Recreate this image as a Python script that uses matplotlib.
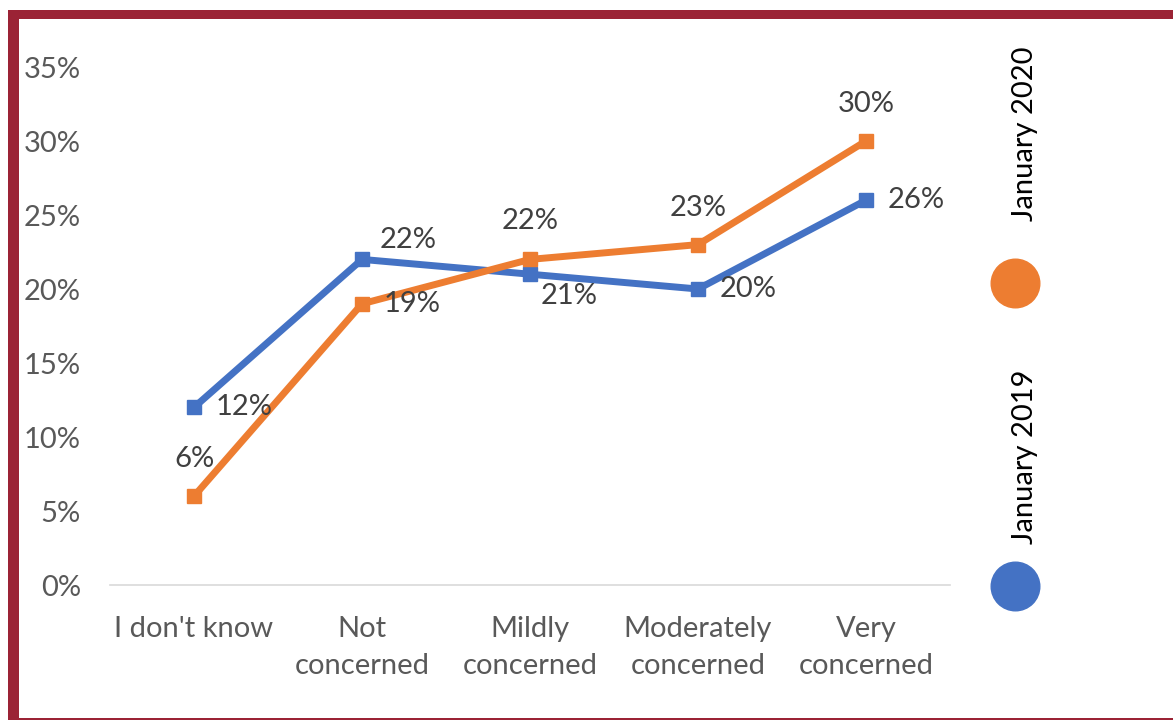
import matplotlib
matplotlib.use("Agg")
import matplotlib.pyplot as plt
from matplotlib.lines import Line2D
from matplotlib.patches import Rectangle
from matplotlib.ticker import PercentFormatter

plt.rcParams['font.family'] = ['Lato', 'DejaVu Sans']

categories = ["I don't know", "Not\nconcerned", "Mildly\nconcerned", "Moderately\nconcerned", "Very\nconcerned"]
jan_2019 = [12, 22, 21, 20, 26]
jan_2020 = [6, 19, 22, 23, 30]
series_names = ["January 2019", "January 2020"]
y_ticks = [0, 5, 10, 15, 20, 25, 30, 35]

BLUE = "#4472C4"
ORANGE = "#ED7D31"
RED = "#9B2335"
FS = 21

fig = plt.figure(figsize=(11.73, 7.21), dpi=100)
ax = fig.add_axes([110/1173, 1-585/721, 840/1173, (585-67)/721])

x = list(range(len(categories)))
ax.plot(x, jan_2019, color=BLUE, lw=5, marker='s', ms=10, solid_joinstyle='miter', zorder=3)
ax.plot(x, jan_2020, color=ORANGE, lw=5, marker='s', ms=10, solid_joinstyle='miter', zorder=3)

ax.set_xlim(-0.5, 4.5)
ax.set_ylim(0, 35)
ax.set_yticks(y_ticks)
ax.yaxis.set_major_formatter(PercentFormatter(decimals=0))
ax.set_xticks(x)
ax.set_xticklabels(categories)
for s in ['top', 'right', 'left']:
    ax.spines[s].set_visible(False)
ax.spines['bottom'].set_color('#D9D9D9')
ax.spines['bottom'].set_linewidth(1.2)
ax.tick_params(axis='both', length=0, labelsize=FS, labelcolor='#595959')
ax.tick_params(axis='y', pad=21)
ax.tick_params(axis='x', pad=22)
for lbl in ax.get_xticklabels():
    lbl.set_linespacing(1.55)

# data labels (offsets in pixels)
off_2019 = [(50, 0), (46, 19), (39, -22), (50, 0), (50, 0)]
off_2020 = [(0, 37), (50, 0), (0, 38), (0, 37), (0, 37)]
for i, v in enumerate(jan_2019):
    ax.annotate(f"{v}%", (i, v), xytext=off_2019[i], textcoords='offset pixels',
                ha='center', va='center', fontsize=FS, color='#404040', zorder=4)
for i, v in enumerate(jan_2020):
    ax.annotate(f"{v}%", (i, v), xytext=off_2020[i], textcoords='offset pixels',
                ha='center', va='center', fontsize=FS, color='#404040', zorder=4)

# legend (manual, vertical rotated text)
W, H = 1173, 721
fig.text(1025/W, 1-134/H, series_names[1], rotation=90, ha='center', va='center', fontsize=FS, color='black')
fig.add_artist(Line2D([1015/W], [1-283/H], marker='o', ms=35, color=ORANGE, transform=fig.transFigure))
fig.text(1025/W, 1-457/H, series_names[0], rotation=90, ha='center', va='center', fontsize=FS, color='black')
fig.add_artist(Line2D([1015/W], [1-586/H], marker='o', ms=35, color=BLUE, transform=fig.transFigure))

# border
fig.add_artist(Rectangle((8/W, 1-19/H), 1-8/W, 9/H, transform=fig.transFigure, color=RED, lw=0))
fig.add_artist(Rectangle((8/W, 1-720/H), 11/W, 710/H, transform=fig.transFigure, color=RED, lw=0))
fig.add_artist(Rectangle((8/W, 1-720/H), 1-8/W, 2/H, transform=fig.transFigure, color=RED, lw=0))

fig.savefig("out.png", dpi=100, facecolor='white')
